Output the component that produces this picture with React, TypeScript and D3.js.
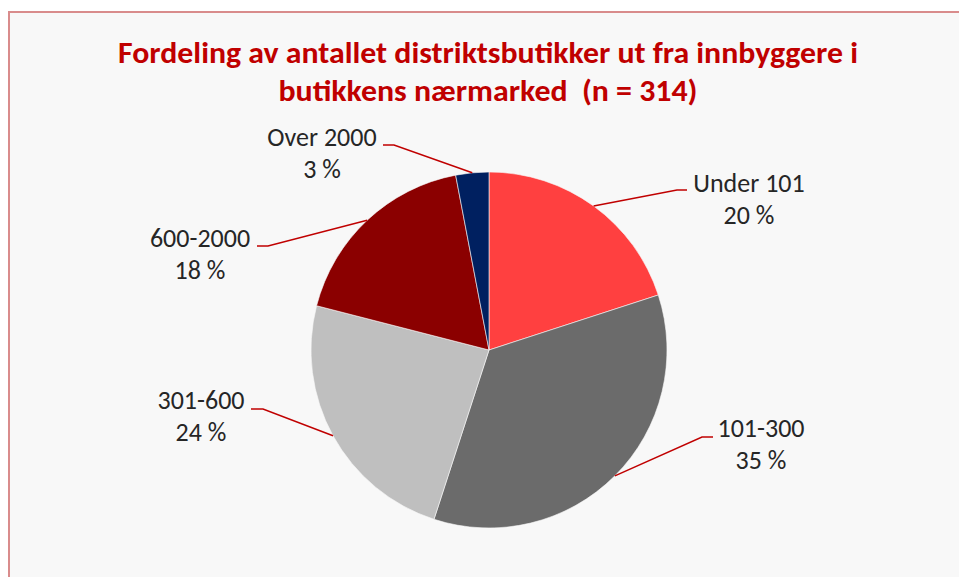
import React, { useEffect, useRef } from "react";
import * as d3 from "d3";

// chart data
const categories = ["Under 101", "101-300", "301-600", "600-2000", "Over 2000"];
const shares = [20, 35, 24, 18, 3];
const sliceColors = ["#ff4040", "#6b6b6b", "#bfbfbf", "#8b0000", "#002060"];
const titleLines = [
  "Fordeling av antallet distriktsbutikker ut fra innbyggere i",
  "butikkens nærmarked  (n = 314)",
];

// label placement (elbow point of leader, text centre x, first baseline)
const labelLayout = [
  { elbow: [677, 190], end: [687, 190], tx: 749, ty: 192 },
  { elbow: [702, 437], end: [713, 437], tx: 761, ty: 437 },
  { elbow: [263, 409], end: [251, 409], tx: 201, ty: 409 },
  { elbow: [268, 246], end: [257, 246], tx: 200, ty: 247 },
  { elbow: [394, 145], end: [383, 145], tx: 322, ty: 146 },
];

const W = 959, H = 577;
const cx = 489, cy = 350, radius = 178;

export default function App() {
  const ref = useRef<SVGSVGElement>(null);

  useEffect(() => {
    const svg = d3.select(ref.current);
    svg.selectAll("*").remove();

    // chart area with border
    svg.append("rect")
      .attr("x", 9).attr("y", 12)
      .attr("width", 1000).attr("height", 700)
      .attr("fill", "#f8f8f8")
      .attr("stroke", "#d98c8c")
      .attr("stroke-width", 2);

    // title
    const font = "Carlito, Calibri, 'Open Sans', sans-serif";
    titleLines.forEach((t, i) => {
      svg.append("text")
        .attr("x", 488)
        .attr("y", 63 + i * 38)
        .attr("text-anchor", "middle")
        .attr("font-family", font)
        .attr("font-weight", "bold")
        .attr("font-size", 31)
        .attr("fill", "#c00000")
        .style("white-space", "pre")
        .attr("textLength", i === 0 ? 740 : 419)
        .attr("lengthAdjust", "spacingAndGlyphs")
        .text(t);
    });

    const data = categories.map((c, i) => ({ name: c, value: shares[i], color: sliceColors[i] }));
    const pie = d3.pie<any>().sort(null).value((d) => d.value);
    const arcs = pie(data);
    const arc = d3.arc<any>().innerRadius(0).outerRadius(radius);

    const g = svg.append("g").attr("transform", `translate(${cx},${cy})`);
    g.selectAll("path")
      .data(arcs)
      .enter()
      .append("path")
      .attr("d", arc)
      .attr("fill", (d) => d.data.color)
      .attr("stroke", "#f8f8f8")
      .attr("stroke-width", 0.6);

    // leader lines and labels
    arcs.forEach((a, i) => {
      const mid = (a.startAngle + a.endAngle) / 2;
      const sx = cx + Math.sin(mid) * radius;
      const sy = cy - Math.cos(mid) * radius;
      const L = labelLayout[i];
      svg.append("polyline")
        .attr("points", `${sx},${sy} ${L.elbow[0]},${L.elbow[1]} ${L.end[0]},${L.end[1]}`)
        .attr("fill", "none")
        .attr("stroke", "#c00000")
        .attr("stroke-width", 1.5);

      const txt = svg.append("text")
        .attr("text-anchor", "middle")
        .attr("font-family", font)
        .attr("font-size", 26)
        .attr("fill", "#262626");
      txt.append("tspan").attr("x", L.tx).attr("y", L.ty).text(a.data.name);
      txt.append("tspan").attr("x", L.tx).attr("y", L.ty + 32).text(a.data.value + " %");
    });
  }, []);

  return (
    <svg
      ref={ref}
      width={W}
      height={H}
      style={{ position: "absolute", left: 0, top: 0, display: "block", background: "#fff" }}
    />
  );
}
